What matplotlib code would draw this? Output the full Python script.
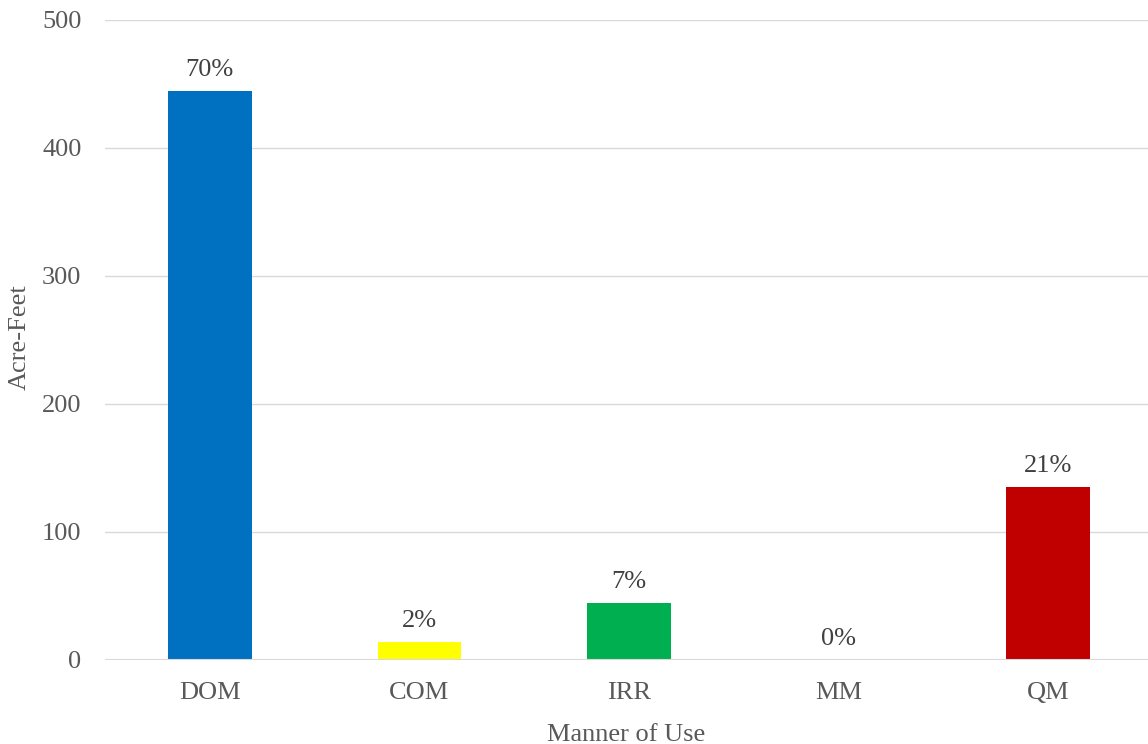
import matplotlib.pyplot as plt

plt.rcParams['font.family'] = ['Liberation Serif', 'DejaVu Serif']

uses = ['DOM', 'COM', 'IRR', 'MM', 'QM']
acre_feet = [444, 14, 44.5, 0, 135]
pct_labels = ['70%', '2%', '7%', '0%', '21%']
colors = ['#0070C0', '#FFFF00', '#00B050', '#7F7F7F', '#C00000']

fig = plt.figure(figsize=(11.48, 7.44), dpi=100)
ax = fig.add_axes([105/1148, 84/744, 1 - 105/1148, (660 - 19.5)/744])

x = range(len(uses))
bars = ax.bar(x, acre_feet, width=0.4, color=colors, zorder=3)
for b, lab in zip(bars, pct_labels):
    ax.text(b.get_x() + b.get_width()/2, b.get_height() + 8, lab,
            ha='center', va='bottom', fontsize=19, color='#404040')

ax.set_xlim(-0.5, 4.475)
ax.set_ylim(0, 500)
ax.set_yticks(range(0, 501, 100))
ax.set_xticks(list(x))
ax.set_xticklabels(uses)
ax.yaxis.grid(True, color='#D9D9D9', linewidth=1, zorder=0)
for s in ax.spines.values():
    s.set_visible(False)
ax.axhline(0, color='#D9D9D9', linewidth=1.5, zorder=4)
ax.tick_params(length=0, labelsize=19, labelcolor='#595959', pad=17)
ax.tick_params(axis='x', pad=16)
fig.text(20/1148, 1 - 337/744, 'Acre-Feet', rotation=90, ha='center', va='center',
         fontsize=19, color='#595959')
ax.set_xlabel('Manner of Use', fontsize=19, color='#595959', labelpad=14)

fig.savefig('out.png', dpi=100)
